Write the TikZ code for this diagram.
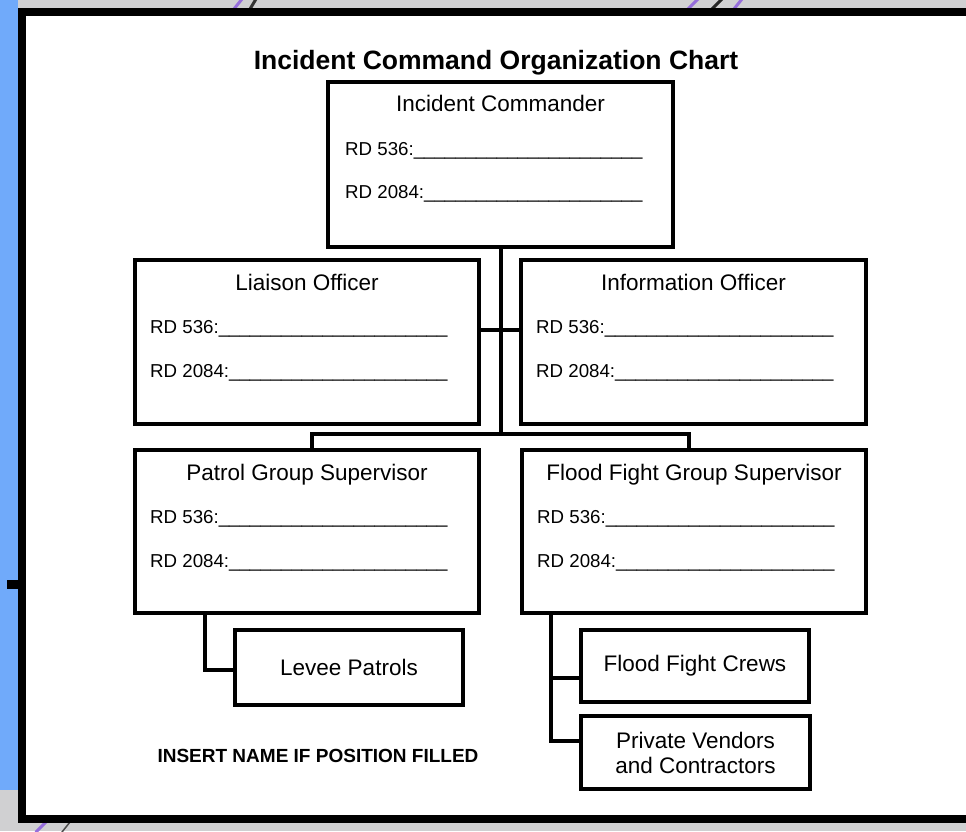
\documentclass[tikz,border=0pt]{standalone}
\usepackage{fontspec}
\setmainfont{Liberation Sans}
\definecolor{bggray}{RGB}{208,208,210}
\definecolor{bgblue}{RGB}{112,170,250}
\definecolor{swirl}{RGB}{150,110,220}
\tikzset{
  pagebox/.style={draw=black, line width=8pt, fill=white},
  posbox/.style={draw=black, line width=4pt, fill=white, rectangle, inner sep=0pt},
  leafbox/.style={posbox, align=center, font=\fontsize{22.5}{25}\selectfont},
  boxtitle/.style={anchor=base, inner sep=0pt, font=\fontsize{22.5}{27}\selectfont},
  rdline/.style={anchor=base west, inner sep=0pt, font=\fontsize{18.7}{22}\selectfont},
  conn/.style={draw=black, line width=4pt},
  deco/.style={line width=3pt, line cap=round}
}
\newcommand{\rdA}{RD 536:\_\_\_\_\_\_\_\_\_\_\_\_\_\_\_\_\_\_\_\_\_\_}
\newcommand{\rdB}{RD 2084:\_\_\_\_\_\_\_\_\_\_\_\_\_\_\_\_\_\_\_\_\_}
\begin{document}
\begin{tikzpicture}[x=1pt,y=-1pt]
\useasboundingbox (0,0) rectangle (966,831);
\clip (0,0) rectangle (966,831);
% background
\fill[bggray] (0,0) rectangle (966,831);
\fill[bgblue] (0,0) rectangle (18,790);
\draw[deco, swirl] (234,9) -- (242,-1);
\draw[deco, black!80] (250,9) -- (256,-1);
\draw[deco, swirl] (688,9) -- (698,-1);
\draw[deco, black!85] (712,9) -- (722,-1);
\draw[deco, swirl] (734,9) -- (742,-1);
\draw[deco, swirl] (36,832) -- (46,822);
\draw[deco, black!70, line width=1.5pt] (62,832) -- (70,822);
\fill[black] (7,580) rectangle (18,589);
% page
\draw[pagebox] (22,12) rectangle (990,819);
% title
\node[anchor=base, inner sep=0pt, font=\fontsize{26.5}{30}\selectfont\bfseries] (title) at (496,69) {Incident Command Organization Chart};
% position boxes
\node[posbox, minimum width=345pt, minimum height=165pt] (ic) at (500.5,164.5) {};
\node[posbox, minimum width=344pt, minimum height=164pt] (lo) at (307,342) {};
\node[posbox, minimum width=345pt, minimum height=164pt] (io) at (693.5,342) {};
\node[posbox, minimum width=344pt, minimum height=163pt] (pg) at (307,531.5) {};
\node[posbox, minimum width=344pt, minimum height=163pt] (fg) at (694,531.5) {};
% leaf boxes
\node[leafbox, minimum width=228pt, minimum height=75pt] (lp) at (349,667.5) {Levee Patrols};
\node[leafbox, minimum width=228pt, minimum height=72pt] (fc) at (695,666) {Flood Fight Crews};
\node[leafbox, minimum width=229pt, minimum height=73pt] (pv) at (695.5,752.5) {Private Vendors\\and Contractors};
% box texts
\node[boxtitle] (ic-t) at (500.5,111) {Incident Commander};
\node[rdline] (ic-a) at (345,155) {\rdA};
\node[rdline] (ic-b) at (345,198) {\rdB};
\node[boxtitle] (lo-t) at (307,290) {Liaison Officer};
\node[rdline] (lo-a) at (150,333) {\rdA};
\node[rdline] (lo-b) at (150,377) {\rdB};
\node[boxtitle] (io-t) at (693.5,290) {Information Officer};
\node[rdline] (io-a) at (536,333) {\rdA};
\node[rdline] (io-b) at (536,377) {\rdB};
\node[boxtitle] (pg-t) at (307,480) {Patrol Group Supervisor};
\node[rdline] (pg-a) at (150,523) {\rdA};
\node[rdline] (pg-b) at (150,567) {\rdB};
\node[boxtitle] (fg-t) at (694,480) {Flood Fight Group Supervisor};
\node[rdline] (fg-a) at (537,523) {\rdA};
\node[rdline] (fg-b) at (537,567) {\rdB};
% footer
\node[anchor=base, inner sep=0pt, font=\fontsize{19}{22}\selectfont\bfseries] (note) at (318,762) {INSERT NAME IF POSITION FILLED};
% connectors
\coordinate (bus-l) at (312,434);
\coordinate (bus-r) at (689,434);
\coordinate (mid) at (0,330);
\coordinate (pl) at (205,670);
\coordinate (f1) at (551,678);
\coordinate (f2) at (551,741);
\draw[conn] (ic.south) -- (ic.south |- bus-l);
\draw[conn] (lo.east |- mid) -- (io.west |- mid);
\draw[conn] (pg.north -| bus-l) -- (bus-l) -- (bus-r) -- (fg.north -| bus-r);
\draw[conn] (pg.south -| pl) -- (pl) -- (lp.west |- pl);
\draw[conn] (fg.south -| f1) -- (f2) -- (pv.west |- f2);
\draw[conn] (f1) -- (fc.west |- f1);
\end{tikzpicture}
\end{document}
